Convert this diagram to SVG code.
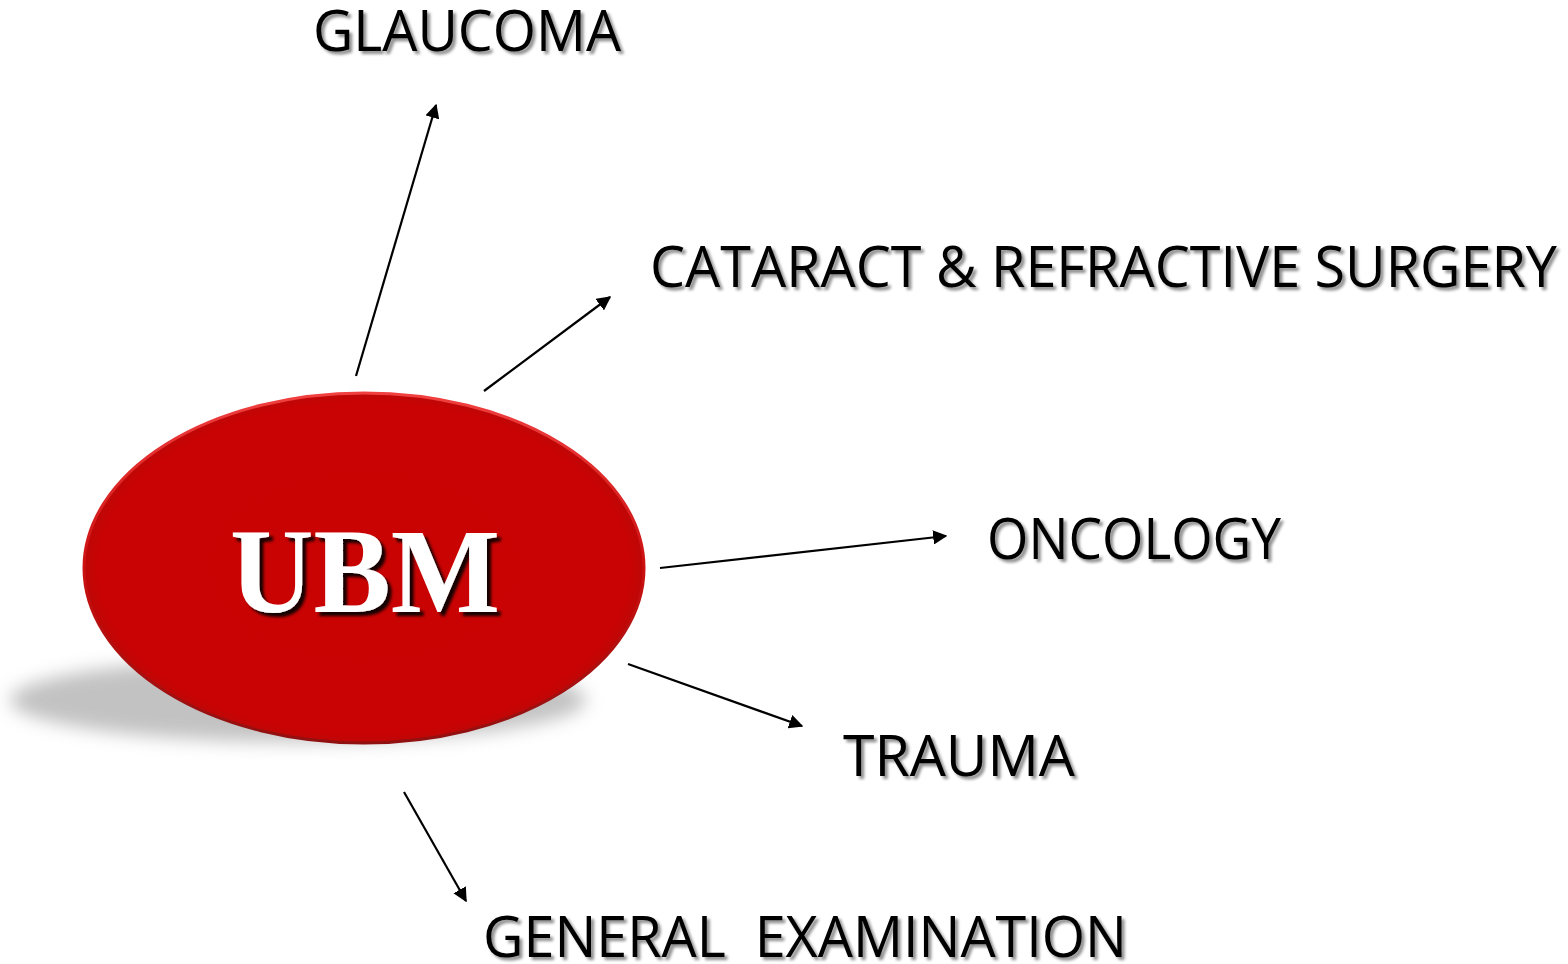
<svg xmlns="http://www.w3.org/2000/svg" width="1568" height="964" viewBox="0 0 1568 964">
  <defs>
    <style>
      .label { font-family: "Open Sans", "Noto Sans", "Liberation Sans", sans-serif; font-size: 56px; fill: #000; filter: url(#textShadow); }
      .title { font-family: "Liberation Serif", "DejaVu Serif", serif; font-weight: bold; font-size: 120px; fill: #fff; filter: url(#titleShadow); }
      .conn { stroke: #000; stroke-width: 2.2; fill: none; marker-end: url(#arrow); }
    </style>
    <marker id="arrow" viewBox="0 0 10 10" refX="9" refY="5" markerWidth="6.5" markerHeight="6.5" markerUnits="strokeWidth" orient="auto">
      <path d="M0,0 L10,5 L0,10 z" fill="#000"/>
    </marker>
    <filter id="textShadow" x="-5%" y="-30%" width="110%" height="160%">
      <feGaussianBlur in="SourceAlpha" stdDeviation="1.6"/>
      <feOffset dx="3" dy="3" result="b"/>
      <feComponentTransfer in="b" result="s"><feFuncA type="linear" slope="0.45"/></feComponentTransfer>
      <feMerge><feMergeNode in="s"/><feMergeNode in="SourceGraphic"/></feMerge>
    </filter>
    <filter id="titleShadow" x="-10%" y="-20%" width="120%" height="140%">
      <feGaussianBlur in="SourceAlpha" stdDeviation="1.5"/>
      <feOffset dx="4" dy="4" result="b"/>
      <feComponentTransfer in="b" result="s"><feFuncA type="linear" slope="0.9"/></feComponentTransfer>
      <feMerge><feMergeNode in="s"/><feMergeNode in="SourceGraphic"/></feMerge>
    </filter>
    <filter id="floorShadow" x="-20%" y="-100%" width="140%" height="300%">
      <feGaussianBlur stdDeviation="9"/>
    </filter>
    <radialGradient id="discFill" cx="50%" cy="50%" r="50%">
      <stop offset="0%" stop-color="#c90202"/>
      <stop offset="95%" stop-color="#c90303"/>
      <stop offset="100%" stop-color="#bd0707"/>
    </radialGradient>
    <linearGradient id="rim" x1="0" y1="0" x2="0" y2="1">
      <stop offset="0%" stop-color="#f04040"/>
      <stop offset="50%" stop-color="#cc1010"/>
      <stop offset="100%" stop-color="#901010"/>
    </linearGradient>
  </defs>

  <rect width="1568" height="964" fill="#fff"/>

  <!-- central disc with its floor shadow -->
  <g id="ubm">
    <ellipse cx="298" cy="700" rx="288" ry="42" fill="#9a9a9a" opacity="0.6" filter="url(#floorShadow)"/>
    <ellipse cx="364" cy="568" rx="280" ry="175" fill="url(#discFill)" stroke="url(#rim)" stroke-width="3"/>
    <text class="title" x="230" y="612" textLength="270" lengthAdjust="spacingAndGlyphs">UBM</text>
  </g>

  <!-- connectors -->
  <g id="connectors">
    <line class="conn" x1="356" y1="376" x2="436" y2="105"/>
    <line class="conn" x1="484" y1="391" x2="610" y2="297"/>
    <line class="conn" x1="660" y1="568" x2="946" y2="536"/>
    <line class="conn" x1="628" y1="664" x2="802" y2="726"/>
    <line class="conn" x1="404" y1="792" x2="466" y2="901"/>
  </g>

  <g id="glaucoma">
    <text class="label" x="313" y="51" textLength="308" lengthAdjust="spacingAndGlyphs">GLAUCOMA</text>
  </g>
  <g id="cataract">
    <text class="label" x="650" y="287" textLength="907" lengthAdjust="spacingAndGlyphs">CATARACT &amp; REFRACTIVE SURGERY</text>
  </g>
  <g id="oncology">
    <text class="label" x="987" y="559" textLength="294" lengthAdjust="spacingAndGlyphs">ONCOLOGY</text>
  </g>
  <g id="trauma">
    <text class="label" x="843" y="776" textLength="232" lengthAdjust="spacingAndGlyphs">TRAUMA</text>
  </g>
  <g id="general">
    <text class="label" x="483" y="957" textLength="644" lengthAdjust="spacingAndGlyphs" xml:space="preserve">GENERAL  EXAMINATION</text>
  </g>
</svg>
